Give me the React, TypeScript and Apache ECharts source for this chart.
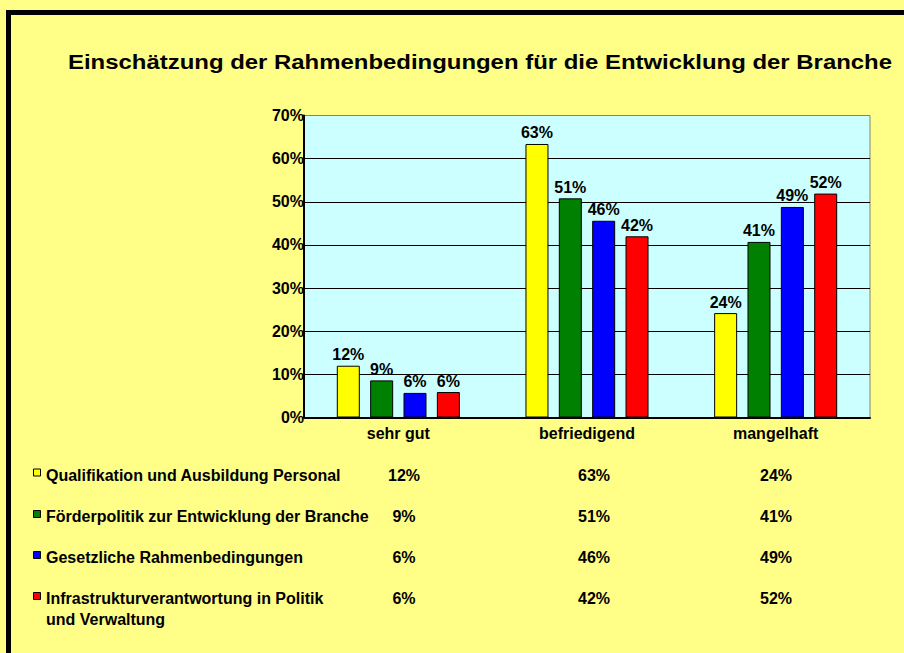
import React, { useEffect, useRef } from "react";
import * as echarts from "echarts";

const categories = ["sehr gut", "befriedigend", "mangelhaft"];
const seriesNames = [
  "Qualifikation und Ausbildung Personal",
  "Förderpolitik zur Entwicklung der Branche",
  "Gesetzliche Rahmenbedingungen",
  "Infrastrukturverantwortung in Politik\nund Verwaltung",
];
const seriesColors = ["#FFFF00", "#008000", "#0000FF", "#FF0000"];
const qualifikation = [12.0, 63.4, 24.2];
const foerderpolitik = [8.6, 50.8, 40.7];
const gesetzlich = [5.7, 45.6, 48.8];
const infrastruktur = [5.9, 42.0, 51.9];
const seriesValues = [qualifikation, foerderpolitik, gesetzlich, infrastruktur];

const FONT = 'Arial, "Liberation Sans", sans-serif';
const TITLE = "Einschätzung der Rahmenbedingungen für die Entwicklung der Branche";

export default function App() {
  const ref = useRef<HTMLDivElement>(null);
  useEffect(() => {
    if (!ref.current) return;
    const chart = echarts.init(ref.current, undefined, { renderer: "svg" });

    const rowY = [475, 516.5, 557.5, 598.5];
    const colX = [404, 594, 776];
    const lineH = 21;
    const graphics: any[] = [
      { type: "rect", shape: { x: 6, y: 10, width: 898, height: 5 }, style: { fill: "#000" }, z: 100 },
      { type: "rect", shape: { x: 6, y: 10, width: 5, height: 643 }, style: { fill: "#000" }, z: 100 },
      {
        type: "text",
        x: 68,
        y: 62,
        scaleX: 1.14,
        style: {
          text: TITLE,
          font: `bold 21px ${FONT}`,
          fill: "#000",
          verticalAlign: "middle",
        },
      },
    ];
    seriesNames.forEach((name, i) => {
      graphics.push({
        type: "rect",
        shape: { x: 33.5, y: rowY[i] - 6, width: 7, height: 7 },
        style: { fill: seriesColors[i], stroke: "#000", lineWidth: 1 },
      });
      graphics.push({
        type: "text",
        x: 46,
        y: rowY[i] - lineH / 2,
        style: {
          text: name,
          font: `bold 16px ${FONT}`,
          fill: "#000",
          verticalAlign: "top",
          lineHeight: lineH,
        },
      });
      seriesValues[i].forEach((v, j) => {
        graphics.push({
          type: "text",
          x: colX[j],
          y: rowY[i],
          style: {
            text: Math.round(v) + "%",
            font: `bold 16px ${FONT}`,
            fill: "#000",
            align: "center",
            verticalAlign: "middle",
          },
        });
      });
    });

    chart.setOption({
      animation: false,
      backgroundColor: "#FFFF88",
      grid: {
        left: 304,
        top: 115.5,
        right: 34,
        bottom: 235.5,
        show: true,
        backgroundColor: "#CCFFFF",
        borderColor: "#808080",
        borderWidth: 1,
      },
      xAxis: {
        type: "category",
        data: categories,
        axisLine: { lineStyle: { color: "#000", width: 2 } },
        axisTick: { show: false },
        axisLabel: { fontFamily: FONT, fontSize: 16, fontWeight: "bold", color: "#000", margin: 8 },
      },
      yAxis: {
        type: "value",
        min: 0,
        max: 70,
        interval: 10,
        axisLine: { show: true, lineStyle: { color: "#000", width: 2 } },
        axisTick: { show: false },
        axisLabel: {
          formatter: "{value}%",
          fontFamily: FONT,
          fontSize: 16,
          fontWeight: "bold",
          color: "#000",
          margin: 0,
          padding: [5, 0, 0, 0],
        },
        splitLine: {
          lineStyle: {
            color: ["#000", "#000", "#000", "#000", "#000", "#000", "#000", "#808080"],
            width: 1,
          },
        },
      },
      series: seriesValues.map((vals, i) => ({
        type: "bar",
        name: seriesNames[i],
        data: vals,
        barWidth: 23,
        barGap: "45%",
        itemStyle: { color: seriesColors[i], borderColor: "#000", borderWidth: 1 },
        label: {
          show: true,
          position: "top",
          distance: 3,
          formatter: (p: any) => Math.round(p.value) + "%",
          fontFamily: FONT,
          fontSize: 16,
          fontWeight: "bold",
          color: "#000",
        },
      })),
      graphic: graphics,
    });
    return () => chart.dispose();
  }, []);
  return <div ref={ref} style={{ position: "absolute", left: 0, top: 0, width: 904, height: 653 }} />;
}
